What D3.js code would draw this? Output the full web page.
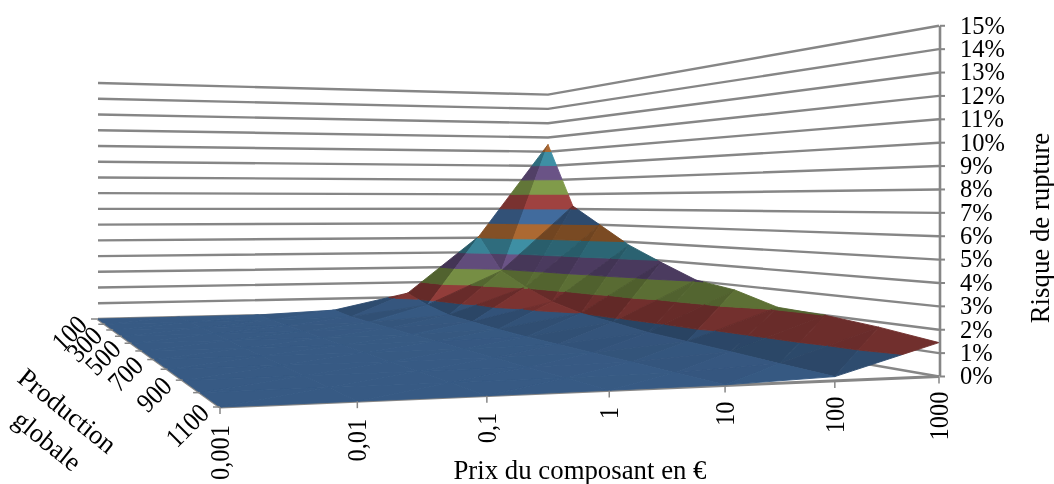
<!DOCTYPE html>
<html><head><meta charset="utf-8">
<style>html,body{margin:0;padding:0;background:#fff}svg{display:block;filter:blur(0.35px)}text{font-family:"Liberation Serif",serif;fill:#000}</style>
<script src="https://cdn.jsdelivr.net/npm/d3@7/dist/d3.min.js"></script></head>
<body><svg id="c" width="1054" height="484"></svg>
<script>
const prices = ["0,001","0,01","0,1","1","10","100","1000"];
const productions = [100,200,300,400,500,600,700,800,900,1000,1100];
const productionLabels = [100,300,500,700,900,1100];
const riskTicks = d3.range(0,16);
const risk100  = [0,0,0.02,0.23,1.27,5.1,11.5];
const risk200  = [0,0,0.02,0.10,0.75,2.9,7.2];
const risk300  = [0,0,0.01,0.08,0.40,2.06,6.0];
const risk400  = [0,0,0.01,0.06,0.30,1.4,4.8];
const risk500  = [0,0,0.01,0.05,0.20,1.0,3.9];
const risk600  = [0,0,0,0.04,0.15,0.8,3.06];
const risk700  = [0,0,0,0.03,0.12,0.6,2.74];
const risk800  = [0,0,0,0.02,0.10,0.5,2.1];
const risk900  = [0,0,0,0.02,0.08,0.4,2.0];
const risk1000 = [0,0,0,0.01,0.05,0.28,1.77];
const risk1100 = [0,0,0,0.01,0.03,0.18,1.45];
const riskRows = [risk100,risk200,risk300,risk400,risk500,risk600,risk700,risk800,risk900,risk1000,risk1100];
const bandColors = ["#4f81bd","#c0504d","#9bbb59","#8064a2","#4bacc6","#d07f3c"];

const svg = d3.select("#c");
const U = d3.scalePoint().domain(prices).range([0,1]);
const V = d3.scalePoint().domain(productions).range([1,0]);
const Z = d3.scaleLinear().domain([0,15]).range([0,414]);

// projective floor: front-left, front-right, back, back-left corners
const A=[220,407],B=[939,376.5],C=[548,308.6],D=[98,319];
const det=(B[0]-C[0])*(D[1]-C[1])-(D[0]-C[0])*(B[1]-C[1]);
const sx=A[0]-B[0]+C[0]-D[0], sy=A[1]-B[1]+C[1]-D[1];
const g=(sx*(D[1]-C[1])-(D[0]-C[0])*sy)/det;
const h=((B[0]-C[0])*sy-sx*(B[1]-C[1]))/det;
const a1=B[0]*(1+g)-A[0], a2=D[0]*(1+h)-A[0];
const b1=B[1]*(1+g)-A[1], b2=D[1]*(1+h)-A[1];
function proj(u,v,z){
  const w=1+g*u+h*v;
  return [(A[0]+a1*u+a2*v)/w,(A[1]+b1*u+b2*v-Z(z))/w];
}
const grey="#868686";
const line=d3.line();
const closed=d3.line().curve(d3.curveLinearClosed);
function seg(p,q,w=2.4,c=grey){svg.append("path").attr("d",line([p,q])).attr("stroke",c).attr("stroke-width",w).attr("fill","none");}

// wall gridlines
riskTicks.forEach(t=>{
  svg.append("path").attr("d",line([proj(0,1,t),proj(1,1,t),proj(1,0,t)]))
    .attr("stroke",grey).attr("stroke-width",2.4).attr("fill","none");
});
// floor edges
seg(proj(0,1,0),proj(0,0,0),3);
seg(proj(0,0,0),proj(1,0,0),3);

// surface triangles, back to front, split in 1% bands
function clip(poly,level,keepAbove){
  const out=[];
  for(let i=0;i<poly.length;i++){
    const p=poly[i],q=poly[(i+1)%poly.length];
    const pin=keepAbove?p[2]>=level:p[2]<=level, qin=keepAbove?q[2]>=level:q[2]<=level;
    if(pin) out.push(p);
    if(pin!==qin){const t=(level-p[2])/(q[2]-p[2]);out.push([p[0]+t*(q[0]-p[0]),p[1]+t*(q[1]-p[1]),level]);}
  }
  return out;
}
function shade(tri){
  const k=0.8/15;
  const [p,q,r]=tri;
  const e1=[q[0]-p[0],q[1]-p[1],(q[2]-p[2])*k], e2=[r[0]-p[0],r[1]-p[1],(r[2]-p[2])*k];
  let n=[e1[1]*e2[2]-e1[2]*e2[1],e1[2]*e2[0]-e1[0]*e2[2],e1[0]*e2[1]-e1[1]*e2[0]];
  if(n[2]<0) n=n.map(d=>-d);
  const l=Math.hypot(...n); n=n.map(d=>d/l);
  return 0.7+0.443*n[0]-0.127*n[1]+0.37*(1-n[2]);
}
function drawTri(tri){
  const s=shade(tri);
  const top=Math.ceil(d3.max(tri,d=>d[2]))||1;
  for(let k=0;k<top;k++){
    let poly=clip(tri,k,true);
    if(poly.length) poly=clip(poly,k+1,false);
    if(poly.length<3) continue;
    const c=d3.rgb(bandColors[k%bandColors.length]);
    const col=d3.rgb(c.r*s,c.g*s,c.b*s).formatHex();
    svg.append("path").attr("d",closed(poly.map(d=>proj(d[0],d[1],d[2]))))
      .attr("fill",col).attr("stroke",col).attr("stroke-width",0.9).attr("stroke-linejoin","round");
  }
}
const P=(i,j)=>[U(prices[i]),V(productions[j]),riskRows[j][i]];
for(let j=0;j<productions.length-1;j++){
  for(let i=prices.length-2;i>=0;i--){
    const bl=P(i,j+1),br=P(i+1,j+1),tl=P(i,j),tr=P(i+1,j);
    drawTri([bl,tl,tr]);
    drawTri([bl,br,tr]);
  }
}

// risk axis
const axisX=940, tickFont=24.5, titleFont=26.8;
seg([axisX,proj(1,0,15)[1]],[axisX,proj(1,0,0)[1]],2.6);
riskTicks.forEach(t=>{
  const y=proj(1,0,t)[1];
  seg([axisX,y],[axisX+5,y],2);
  svg.append("text").attr("x",960).attr("y",y).attr("dy","0.32em").attr("font-size",tickFont).text(t+"%");
});
// price axis
prices.forEach(p=>{
  const q=proj(U(p),0,0);
  seg([q[0],q[1]],[q[0],q[1]+7],1.5);
  svg.append("text").attr("transform",`translate(${q[0]},${q[1]+18-3*U(p)}) rotate(-90) scale(1,1.12)`)
    .attr("text-anchor","end").attr("dy","0.32em").attr("font-size",tickFont).text(p);
});
// production axis
productions.forEach(d=>{
  const q=proj(0,V(d),0);
  seg([q[0]-7,q[1]],[q[0],q[1]],1.5);
});
productionLabels.forEach(d=>{
  const q=proj(0,V(d),0);
  svg.append("text").attr("transform",`translate(${q[0]-15.5},${q[1]+1.5}) rotate(-45) scale(1,1.12)`)
    .attr("text-anchor","end").attr("dy","0.32em").attr("font-size",tickFont).text(d);
});
// titles
svg.append("text").attr("x",580).attr("y",479).attr("text-anchor","middle").attr("font-size",titleFont).text("Prix du composant en €");
svg.append("text").attr("transform","translate(1049,228) rotate(-90)").attr("text-anchor","middle").attr("font-size",titleFont).text("Risque de rupture");
svg.append("text").attr("transform","translate(67,411) rotate(39)").attr("text-anchor","middle").attr("dy","0.32em").attr("font-size",titleFont).text("Production");
svg.append("text").attr("transform","translate(47,441) rotate(39)").attr("text-anchor","middle").attr("dy","0.32em").attr("font-size",titleFont).text("globale");
</script></body></html>
